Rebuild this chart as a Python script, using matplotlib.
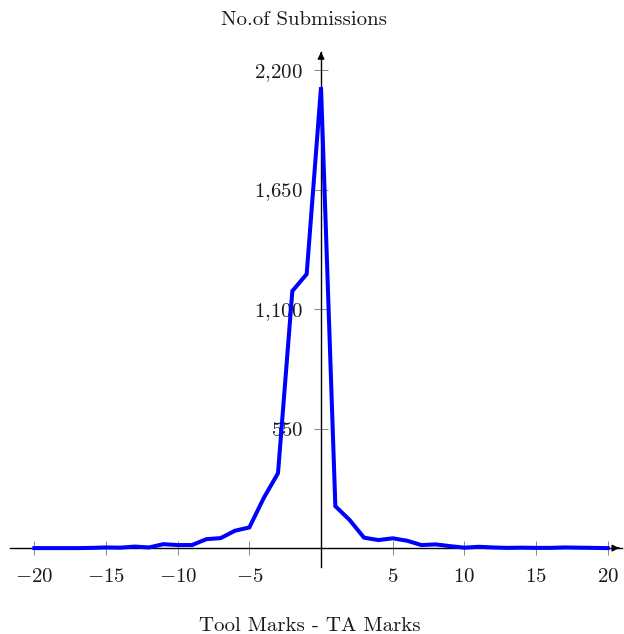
import matplotlib
matplotlib.use("Agg")
import matplotlib.pyplot as plt
from matplotlib.ticker import FuncFormatter

# difference between tool marks and TA marks
diff = list(range(-20, 21))
submissions = [0, 0, 0, 0, 1, 3, 2, 7, 3, 18, 14, 14, 41, 46, 80, 95, 230, 345, 1183, 1261,
               2121,
               193, 129, 48, 37, 45, 34, 14, 17, 9, 2, 6, 3, 1, 2, 1, 1, 3, 2, 1, 0]

x_ticks = [-20, -15, -10, -5, 5, 10, 15, 20]
y_ticks = [550, 1100, 1650, 2200]

plt.rcParams['font.family'] = 'serif'
plt.rcParams['font.serif'] = ['cmr10', 'DejaVu Serif']
plt.rcParams['mathtext.fontset'] = 'cm'
plt.rcParams['axes.unicode_minus'] = True

fig = plt.figure(figsize=(6.24, 6.34), dpi=100)
ax = fig.add_axes([10 / 624, 67 / 634, 612 / 624, 515 / 634])

ax.plot(diff, submissions, color='blue', lw=2.9, zorder=3, solid_joinstyle='miter')

ax.set_xlim(-21.7, 21.0)
ax.set_ylim(-87, 2283)

# axes through the origin, pgfplots style
ax.spines['left'].set_position(('data', 0))
ax.spines['bottom'].set_position(('data', 0))
ax.spines['right'].set_visible(False)
ax.spines['top'].set_visible(False)
for s in ('left', 'bottom'):
    ax.spines[s].set_linewidth(1.0)

ax.annotate('', xy=(1.0, 0), xycoords=('axes fraction', 'data'),
            xytext=(0.99, 0), textcoords=('axes fraction', 'data'),
            arrowprops=dict(arrowstyle='-|>', color='black', lw=1.0, mutation_scale=10))
ax.annotate('', xy=(0, 1.0), xycoords=('data', 'axes fraction'),
            xytext=(0, 0.99), textcoords=('data', 'axes fraction'),
            arrowprops=dict(arrowstyle='-|>', color='black', lw=1.0, mutation_scale=10))

ax.set_xticks(x_ticks)
ax.set_yticks(y_ticks)
ax.xaxis.set_major_formatter(FuncFormatter(lambda v, p: r'$%d$' % v))
ax.yaxis.set_major_formatter(FuncFormatter(lambda v, p: r'$%s$' % f'{int(v):,}'.replace(',', '{,}')))
ax.tick_params(axis='both', direction='inout', length=10, width=0.6, color='0.45',
               labelsize=15, labelcolor='0.1')
ax.tick_params(axis='x', pad=9)
ax.tick_params(axis='y', pad=8)

fig.text(304 / 624, 1 - 20 / 634, 'No.of Submissions', ha='center', va='center',
         fontsize=15, color='0.1')
fig.text(310 / 624, 1 - 626 / 634, 'Tool Marks - TA Marks', ha='center', va='center',
         fontsize=15, color='0.1')

fig.savefig('out.png', dpi=100)
